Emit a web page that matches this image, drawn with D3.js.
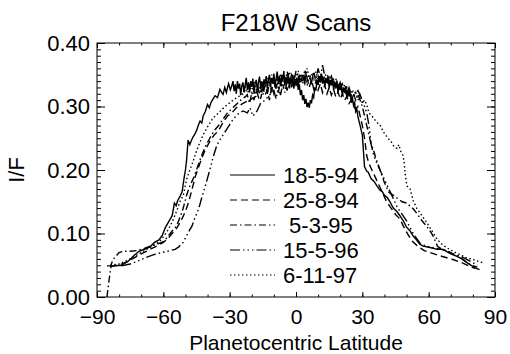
<!DOCTYPE html>
<html><head><meta charset="utf-8">
<script src="https://cdn.jsdelivr.net/npm/d3@7"></script>
<style>
body{margin:0;background:#fff}
svg{display:block;font-family:"Liberation Sans",Arial,Helvetica,sans-serif}
</style>
</head><body><div id="chart"></div>
<script>
const xTicks=[-90,-60,-30,0,30,60,90];
const yTicks=[0,0.1,0.2,0.3,0.4];
const scanLabels=["18-5-94","25-8-94"," 5-3-95","15-5-96","6-11-97"];

// [planetocentric latitude, I/F]
const scan18594=[[-85.5,0.049],[-82,0.049],[-79,0.05],[-76,0.056],[-73,0.066],[-71,0.072],[-68,0.076],[-66,0.079],[-64,0.086],[-62,0.09],[-60.5,0.097],[-59,0.11],[-58,0.116],[-56,0.128],[-55,0.148],[-54.2,0.144],[-53.5,0.152],[-52.5,0.158],[-51.5,0.166],[-50.5,0.19],[-50,0.2],[-49.5,0.215],[-48.8,0.247],[-48,0.24],[-47.5,0.245],[-46.6,0.252],[-45.8,0.256],[-45,0.262],[-44.2,0.27],[-43.4,0.277],[-42.6,0.274],[-42,0.285],[-41,0.292],[-40,0.303],[-39.2,0.298],[-38.5,0.306],[-37.5,0.312],[-36.6,0.317],[-35.5,0.314],[-34.4,0.327],[-33.6,0.322],[-33,0.319],[-32.2,0.33],[-31.5,0.322],[-30.5,0.336],[-29.7,0.326],[-29,0.333],[-28.5,0.34],
[-28,0.324],[-27.5,0.335],[-27,0.32],[-26.5,0.34],[-26,0.328],[-25.5,0.336],[-25,0.318],[-24.5,0.333],[-24,0.338],[-23.5,0.322],[-23,0.334],[-22.5,0.345],[-22,0.326],[-21.5,0.338],[-21,0.322],[-20.5,0.34],[-20,0.331],[-19.5,0.344],[-19,0.32],[-18.5,0.336],[-18,0.342],[-17.5,0.325],[-17,0.338],[-16.5,0.347],[-16,0.33],[-15.5,0.34],[-15,0.324],[-14.5,0.343],[-14,0.334],[-13.5,0.348],[-13,0.328],[-12.5,0.342],[-12,0.35],[-11.5,0.331],[-11,0.345],[-10.5,0.336],[-10,0.352],[-9.5,0.33],[-9,0.344],[-8.5,0.355],[-8,0.336],[-7.5,0.348],[-7,0.332],[-6.5,0.35],[-6,0.34],[-5.5,0.356],[-5,0.333],[-4.5,0.347],[-4,0.338],[-3.5,0.352],[-3,0.33],[-2.5,0.345],[-2,0.336],[-1.5,0.35],[-1,0.328],[-0.5,0.34],[0,0.334],[0.5,0.344],[1,0.326],[1.5,0.335],[2,0.318],[2.5,0.326],[3,0.31],[3.5,0.318],[4,0.304],[4.5,0.312],[5,0.299],[5.5,0.306],[6,0.298],[6.5,0.31],[7,0.305],[7.5,0.318],[8,0.314],[8.5,0.33],[9,0.325],[9.5,0.342],[10,0.334],[10.5,0.348],[11,0.338],[11.5,0.352],[12,0.336],[12.5,0.346],[13,0.332],[13.5,0.344],[14,0.338],[14.5,0.348],[15,0.33],[15.5,0.342],[16,0.334],[16.5,0.344],[17,0.326],[17.5,0.338],[18,0.33],[18.5,0.341],[19,0.322],[19.5,0.334],[20,0.326],[20.5,0.336],[21,0.318],[21.5,0.33],[22,0.322],[22.5,0.332],[23,0.314],[23.5,0.325],[24,0.316],[24.5,0.322],[25,0.306],[25.5,0.315],[26,0.302],[26.5,0.306],[27,0.292],[27.5,0.296],[28,0.284],
[29,0.27],[30,0.255],[30.5,0.23],[31,0.205],[32,0.198],[32.6,0.197],[34,0.186],[35.3,0.182],[36.6,0.175],[38,0.168],[39,0.166],[40,0.16],[41.2,0.157],[42.5,0.15],[44,0.14],[45.5,0.135],[47,0.128],[48.5,0.12],[50,0.11],[51.6,0.104],[53,0.096],[54.5,0.09],[56,0.083],[57.5,0.08],[60.6,0.078],[63.8,0.075],[66.5,0.075],[68,0.072],[70,0.068],[72.8,0.064],[75,0.06],[77,0.055],[78.7,0.051],[80,0.048],[81.5,0.045],[83,0.043]];

const scan25894=[[-84,0.048],[-81,0.05],[-78,0.053],[-74,0.06],[-70,0.068],[-66,0.075],[-63,0.08],[-60,0.086],[-58,0.092],[-56,0.1],[-54,0.108],[-52,0.12],[-50,0.135],[-48.5,0.15],[-47,0.17],[-45.5,0.19],[-44,0.205],[-42.5,0.22],[-41,0.232],[-39,0.245],[-37,0.255],[-35,0.262],[-33,0.275],[-31,0.285],[-29,0.29],[-27,0.298],[-24,0.305],[-21,0.31],
[-18,0.316],[-17,0.327],[-16,0.312],[-15,0.33],[-14,0.318],[-13,0.326],[-12,0.31],[-11,0.332],[-10,0.32],[-9,0.335],[-8,0.322],[-7,0.34],[-6,0.327],[-5,0.338],[-4,0.325],[-3,0.344],[-2,0.33],[-1,0.346],[0,0.332],[1,0.348],[2,0.335],[3,0.35],[4,0.336],[5,0.345],[6,0.33],[7,0.342],[8,0.328],[9,0.34],[10,0.326],[11,0.336],[12,0.322],[13,0.334],[14,0.32],[15,0.33],[16,0.318],[17,0.327],[18,0.315],[19,0.323],[20,0.312],[21,0.32],[22,0.31],[23,0.316],[24,0.305],[25,0.31],[26,0.3],[27,0.296],[28,0.3],
[29,0.285],[30,0.27],[31,0.25],[32,0.222],[33,0.21],[35,0.195],[37,0.18],[39,0.165],[41,0.15],[43,0.14],[45,0.13],[47,0.123],[48.5,0.112],[50,0.102],[52.5,0.088],[55,0.08],[58,0.073],[60.6,0.07],[65,0.065],[71,0.059],[75,0.054],[78.7,0.048],[81,0.045]];

const scan5395=[[-85.5,0],[-84.5,0.028],[-83.5,0.052],[-82.8,0.059],[-80,0.07],[-78,0.072],[-75,0.072],[-72,0.073],[-69,0.076],[-66,0.08],[-63,0.083],[-60,0.087],[-58,0.095],[-56,0.104],[-54,0.112],[-52.5,0.125],[-51,0.14],[-49.5,0.16],[-48,0.175],[-46,0.19],[-44.5,0.205],[-43,0.22],[-41,0.237],[-39,0.25],[-37,0.262],[-35,0.27],[-33,0.28],[-31,0.29],[-28,0.3],[-25,0.31],
[-22,0.318],[-21,0.305],[-20,0.322],[-19,0.31],[-18,0.326],[-17,0.315],[-16,0.33],[-15,0.318],[-14,0.334],[-13,0.32],[-12,0.336],[-11,0.325],[-10,0.34],[-9,0.328],[-8,0.345],[-7,0.333],[-6,0.35],[-5,0.336],[-4,0.355],[-3,0.34],[-2,0.35],[-1,0.338],[0,0.356],[1,0.342],[2,0.352],[3,0.34],[4,0.358],[5,0.344],[6,0.35],[7,0.338],[8,0.353],[9,0.34],[10,0.348],[11,0.336],[12,0.346],[13,0.333],[14,0.343],[15,0.33],[16,0.34],[17,0.328],[18,0.336],[19,0.325],[20,0.332],[21,0.32],[22,0.33],[23,0.316],[24,0.325],[25,0.312],[26,0.32],[27,0.31],[28,0.32],
[29,0.31],[30,0.3],[31,0.285],[32,0.27],[33,0.255],[34,0.24],[35,0.232],[36,0.22],[38,0.2],[40,0.18],[42,0.165],[44,0.16],[46,0.155],[48,0.15],[50,0.148],[52,0.142],[53,0.139],[55,0.13],[57,0.12],[59,0.112],[61,0.102],[62,0.096],[64,0.08],[66,0.075],[70,0.07],[74,0.063],[78.7,0.051],[82,0.047]];

const scan15596=[[-79,0.049],[-75,0.052],[-72,0.056],[-68,0.062],[-64,0.067],[-60.6,0.07],[-57,0.073],[-54.7,0.075],[-53,0.079],[-51,0.086],[-49,0.1],[-47,0.112],[-45.5,0.127],[-44,0.139],[-42.5,0.158],[-41,0.175],[-39,0.2],[-37.5,0.22],[-35.8,0.239],[-34,0.25],[-32.5,0.258],[-31,0.266],[-29,0.277],[-26.7,0.287],[-24,0.293],[-22,0.29],[-20.8,0.298],[-19.5,0.285],[-17.6,0.293],[-16,0.305],[-14,0.31],[-12,0.318],
[-10,0.325],[-9,0.312],[-8,0.33],[-7,0.318],[-6,0.335],[-5,0.322],[-4,0.34],[-3,0.327],[-2,0.344],[-1,0.33],[0,0.346],[1,0.334],[2,0.35],[3,0.336],[4,0.348],[5,0.333],[6,0.346],[7,0.338],[8,0.355],[9,0.342],[10,0.36],[11,0.345],[12,0.365],[13,0.348],[14,0.352],[15,0.34],[16,0.348],[17,0.335],[18,0.344],[19,0.33],[20,0.338],[21,0.326],[22,0.334],[23,0.322],[24,0.33],[25,0.318],[26,0.326],[27,0.32],[28,0.325],
[29,0.318],[30,0.31],[31,0.3],[32,0.29],[33,0.27],[34,0.24],[35,0.225],[36,0.215],[38,0.2],[40,0.185],[42,0.17],[44,0.155],[46,0.14],[48,0.13],[50,0.12],[53,0.1],[56,0.085],[59,0.08],[63,0.077],[67,0.074],[71,0.068],[75,0.063],[79,0.056],[82,0.05]];

const scan61197=[[-84,0.05],[-80,0.052],[-76,0.058],[-72,0.066],[-68,0.074],[-64,0.082],[-61,0.09],[-58,0.105],[-56,0.118],[-54,0.135],[-52.5,0.15],[-51,0.16],[-49.5,0.185],[-48,0.2],[-46.6,0.213],[-45,0.23],[-43.5,0.243],[-42,0.255],[-40,0.268],[-37.5,0.282],[-35,0.29],[-33,0.297],[-31,0.303],[-28.5,0.31],[-26.7,0.314],
[-24,0.32],[-23,0.331],[-22,0.318],[-21,0.335],[-20,0.322],[-19,0.339],[-18,0.326],[-17,0.334],[-16,0.321],[-15,0.34],[-14,0.329],[-13,0.345],[-12,0.332],[-11,0.35],[-10,0.336],[-9,0.344],[-8,0.33],[-7,0.352],[-6,0.338],[-5,0.347],[-4,0.335],[-3,0.355],[-2,0.34],[-1,0.35],[0,0.337],[1,0.356],[2,0.343],[3,0.352],[4,0.339],[5,0.36],[6,0.345],[7,0.352],[8,0.34],[9,0.355],[10,0.342],[11,0.35],[12,0.338],[13,0.348],[14,0.335],[15,0.345],[16,0.332],[17,0.342],[18,0.33],[19,0.338],[20,0.326],[21,0.335],[22,0.323],[23,0.33],[24,0.318],[25,0.326],[26,0.314],[27,0.322],[28,0.31],[29,0.318],[30,0.305],[31,0.31],[32,0.303],
[33,0.29],[35,0.282],[36.5,0.275],[38,0.271],[39.5,0.26],[41.6,0.25],[43,0.245],[44.5,0.236],[45.7,0.234],[46.5,0.24],[47.5,0.228],[48.4,0.223],[49,0.21],[49.5,0.19],[50.2,0.175],[51.6,0.17],[53,0.152],[54.7,0.139],[57,0.128],[59,0.118],[61.5,0.104],[63.8,0.091],[66,0.083],[68,0.078],[71,0.072],[74,0.067],[77,0.062],[80,0.059],[82.5,0.056],[84.6,0.054]];

const scans=[scan18594,scan25894,scan5395,scan15596,scan61197];
const dashes=[null,"7,4","7,3,1.5,3","10,3,1.5,3,1.5,3,1.5,3","1.5,2.5"];

const W=510,H=354,fs=22,fx=21;
const x=d3.scaleLinear().domain([-90,90]).range([97,495]);
const y=d3.scaleLinear().domain([0,0.4]).range([297,43]);

const svg=d3.select("#chart").append("svg").attr("width",W).attr("height",H);

// curves
const line=d3.line().x(d=>x(d[0])).y(d=>y(d[1]));
svg.append("defs").append("clipPath").attr("id","clip").append("rect")
  .attr("x",97).attr("y",43).attr("width",398).attr("height",254);
svg.append("g").attr("clip-path","url(#clip)").selectAll("path").data(scans).join("path")
  .attr("d",line).attr("fill","none").attr("stroke","#000").attr("stroke-width",1.4)
  .attr("stroke-dasharray",(d,i)=>dashes[i]);

// frame + ticks, all pointing inward
function ticks(axis,tx,ty,size){
  svg.append("g").attr("transform",`translate(${tx},${ty})`).call(axis)
    .call(s=>s.select(".domain").remove())
    .call(s=>s.selectAll("line").attr("stroke","#000"))
    .call(s=>s.selectAll("text").attr("font-size",size||fs).attr("fill","#000").attr("font-family",null));
}
const xMinor=d3.range(-90,91,10), yMinor=d3.range(0,0.4001,0.01);
ticks(d3.axisBottom(x).tickValues(xMinor).tickSize(-2.5).tickFormat(""),0,297);
ticks(d3.axisTop(x).tickValues(xMinor).tickSize(-2.5).tickFormat(""),0,43);
ticks(d3.axisBottom(x).tickValues(xTicks).tickSize(-5).tickPadding(12).tickFormat(d3.format("d")),0,297,fx);
ticks(d3.axisTop(x).tickValues(xTicks).tickSize(-5).tickFormat(""),0,43);
ticks(d3.axisLeft(y).tickValues(yMinor).tickSize(-4).tickFormat(""),97,0);
ticks(d3.axisRight(y).tickValues(yMinor).tickSize(-4).tickFormat(""),495,0);
ticks(d3.axisLeft(y).tickValues(yTicks).tickSize(-8).tickPadding(7).tickFormat(d3.format(".2f")),97,0);
ticks(d3.axisRight(y).tickValues(yTicks).tickSize(-8).tickFormat(""),495,0);
svg.append("rect").attr("x",97).attr("y",43).attr("width",398).attr("height",254)
  .attr("fill","none").attr("stroke","#000").attr("stroke-width",1);

// titles
svg.append("text").attr("x",296).attr("y",31).attr("text-anchor","middle").attr("font-size",24).text("F218W Scans");
svg.append("text").attr("x",296).attr("y",349.5).attr("text-anchor","middle").attr("font-size",fx).text("Planetocentric Latitude");
svg.append("text").attr("transform","translate(24,170) rotate(-90)").attr("text-anchor","middle").attr("font-size",fs).text("I/F");

// legend
const lg=svg.append("g").selectAll("g").data(scanLabels).join("g")
  .attr("transform",(d,i)=>`translate(0,${175+i*25})`);
lg.append("line").attr("x1",230).attr("x2",275).attr("stroke","#000").attr("stroke-width",1.2)
  .attr("stroke-dasharray",(d,i)=>dashes[i]);
lg.append("text").attr("x",283).attr("dy","0.36em").attr("font-size",fs)
  .style("white-space","pre").text(d=>d);
</script>
</body></html>
